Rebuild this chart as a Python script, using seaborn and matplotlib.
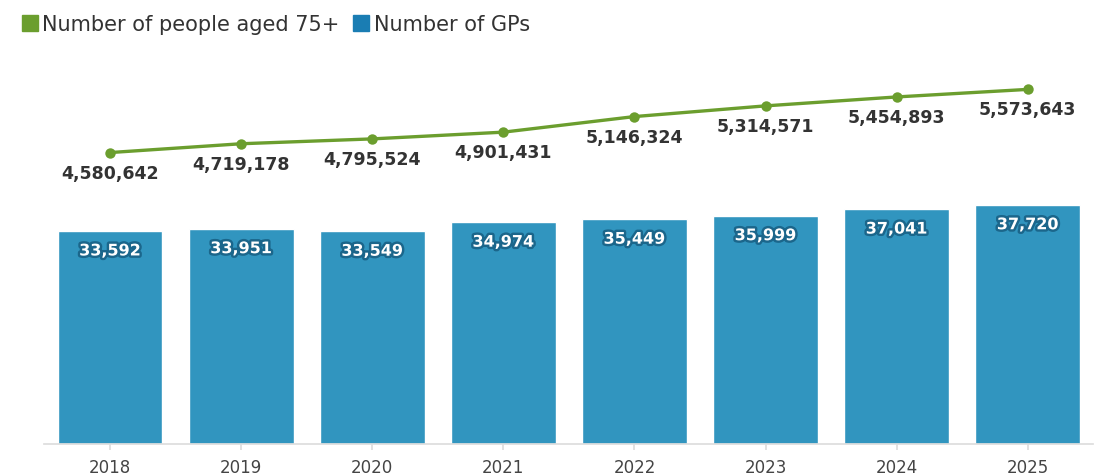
import numpy as np
import pandas as pd
import seaborn as sns
import matplotlib
matplotlib.use("Agg")
import matplotlib.pyplot as plt
import matplotlib.patheffects as pe
from matplotlib.lines import Line2D

years = ["2018", "2019", "2020", "2021", "2022", "2023", "2024", "2025"]
gps = [33592, 33951, 33549, 34974, 35449, 35999, 37041, 37720]
people_75 = [4580642, 4719178, 4795524, 4901431, 5146324, 5314571, 5454893, 5573643]

bar_color = "#3195bf"
line_color = "#6b9e2e"
legend_blue = "#1a7db3"
text_dark = "#333333"

sns.set_theme(style="white")
plt.rcParams["font.family"] = ["DejaVu Sans"]

df = pd.DataFrame({"year": years, "gps": gps, "people": people_75, "pos": np.arange(len(years))})

fig = plt.figure(figsize=(11.04, 4.75), dpi=100)
ax = fig.add_axes([0.0403, 0.0653, 0.950, 0.8505])

sns.barplot(data=df, x="year", y="gps", color=bar_color, saturation=1, width=0.8, ax=ax)
ax.set_ylim(0, 63700)
ax.set_xlim(-0.5, len(years) - 0.5)
ax.set_xlabel("")
ax.set_ylabel("")
ax.set_yticks([])
for s in ["top", "right", "left"]:
    ax.spines[s].set_visible(False)
ax.spines["bottom"].set_color("#dddddd")
ax.tick_params(axis="x", length=4.5, color="#dddddd", colors="#444444", labelsize=12, pad=6, bottom=True)

# GP counts written inside the top of each bar
for i, v in enumerate(gps):
    ax.annotate(f"{v:,}", xy=(i, v), xytext=(0, -20), textcoords="offset pixels",
                ha="center", va="center", fontsize=11.5, fontweight="bold", color="white",
                path_effects=[pe.withStroke(linewidth=3.5, foreground="#1b668b")])

# People aged 75+ on a secondary scale
ax2 = ax.twinx()
sns.lineplot(data=df, x="pos", y="people", color=line_color, linewidth=2.4,
             marker="o", markersize=7.5, markeredgewidth=0, ax=ax2)
ax2.set_ylim(0, 6350000)
ax2.set_xlim(-0.5, len(years) - 0.5)
ax2.set_yticks([])
ax2.set_ylabel("")
ax2.set_xlabel("")
for s in ax2.spines.values():
    s.set_visible(False)

for i, v in enumerate(people_75):
    ax2.annotate(f"{v:,}", xy=(i, v), xytext=(0, -21), textcoords="offset pixels",
                 ha="center", va="center", fontsize=12.5, fontweight="bold", color=text_dark)

handles = [
    Line2D([], [], marker="s", linestyle="none", markersize=11, color=line_color),
    Line2D([], [], marker="s", linestyle="none", markersize=11, color=legend_blue),
]
fig.legend(handles, ["Number of people aged 75+", "Number of GPs"], loc="upper left",
           bbox_to_anchor=(0.008, 1.0), ncol=2, frameon=False, fontsize=15,
           handlelength=0.6, handletextpad=0.3, columnspacing=0.75,
           labelcolor=text_dark, borderaxespad=0.3)

fig.savefig("out.png", dpi=100)
